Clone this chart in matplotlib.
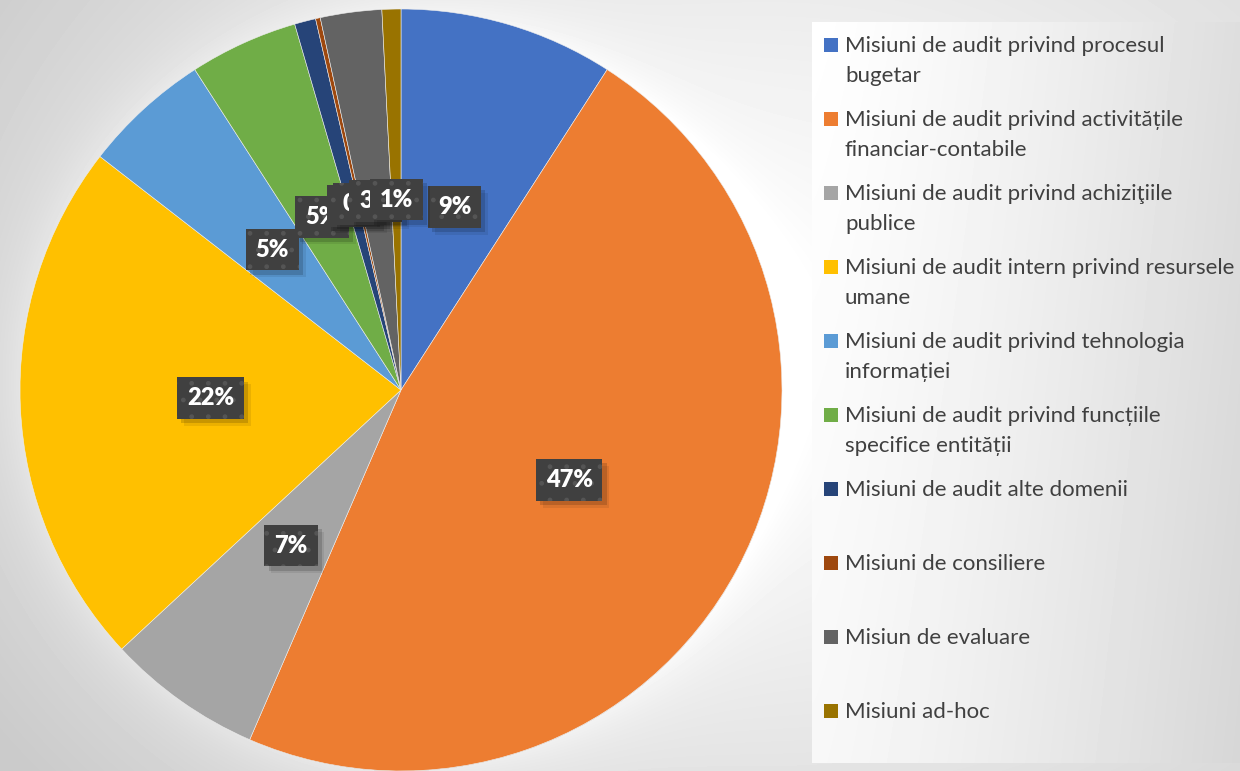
import numpy as np
import matplotlib
matplotlib.use("Agg")
import matplotlib.pyplot as plt
import matplotlib.patheffects as pe
from matplotlib.patches import Rectangle

# Ponderea misiunilor pe tipuri (%)
categorii = [
    "Misiuni de audit privind procesul\nbugetar",
    "Misiuni de audit privind activitățile\nfinanciar-contabile",
    "Misiuni de audit privind achiziţiile\npublice",
    "Misiuni de audit intern privind resursele\numane",
    "Misiuni de audit privind tehnologia\ninformației",
    "Misiuni de audit privind funcțiile\nspecifice entității",
    "Misiuni de audit alte domenii",
    "Misiuni de consiliere",
    "Misiun de evaluare",
    "Misiuni ad-hoc",
]
ponderi = [9.1, 47.4, 6.6, 22.4, 5.4, 4.6, 0.9, 0.2, 2.6, 0.8]
culori = ["#4472C4", "#ED7D31", "#A5A5A5", "#FFC000", "#5B9BD5",
          "#70AD47", "#264478", "#9E480E", "#636363", "#997300"]


class UmbraSimpla(pe.SimplePatchShadow):
    """Umbră de casetă fără modelul de puncte al casetei."""

    def draw_path(self, renderer, gc, tpath, affine, rgbFace):
        gc0 = renderer.new_gc()
        gc0.copy_properties(gc)
        gc0.set_hatch(None)
        super().draw_path(renderer, gc0, tpath, affine, rgbFace)
        gc0.restore()


W, H = 1240, 771
fig = plt.figure(figsize=(W / 100, H / 100), dpi=100)

# Fundal: gradient radial + halou deschis în jurul diagramei + panoul legendei
yy, xx = np.mgrid[0:H, 0:W].astype(float)
r = np.sqrt(((xx - 780) / 780) ** 2 + ((yy - 330) / 600) ** 2)
fundal = 0.99 - 0.15 * np.clip(r, 0, 1.2) ** 1.4
d_margine = np.sqrt((xx - 401) ** 2 + (yy - 390) ** 2) - 381
fundal += 0.05 * np.exp(-np.clip(d_margine, 0, None) / 30.0) * (d_margine > 0)
panou = (xx >= 812) & (yy >= 22) & (yy <= 762)
grad_panou = 1.0 - 0.13 * (np.clip(xx - 812, 0, None) / 428) ** 1.3 - 0.03 * (yy / H)
fundal = np.where(panou, grad_panou, fundal)
fundal = np.clip(fundal, 0, 1)

ax_bg = fig.add_axes([0, 0, 1, 1], zorder=0)
ax_bg.imshow(fundal, cmap="gray", vmin=0, vmax=1, extent=[0, W, H, 0],
             aspect="auto", interpolation="bilinear")
ax_bg.axis("off")

# Diagrama circulară (sens orar, de la ora 12)
ax = fig.add_axes([20 / W, 0, 762 / W, 762 / H], zorder=1)
ax.patch.set_alpha(0)
wedges, texts, autotexts = ax.pie(
    ponderi,
    colors=culori,
    startangle=90,
    counterclock=False,
    radius=1,
    pctdistance=0.5,
    autopct="%.0f%%",
    wedgeprops=dict(linewidth=0.4, edgecolor="#eeeeee"),
)
ax.set_xlim(-1, 1)
ax.set_ylim(-1, 1)
ax.axis("off")

# Etichete cu fundal închis punctat și umbră
umbra = [
    UmbraSimpla(offset=(5, -5), shadow_rgbFace="black", alpha=0.08),
    UmbraSimpla(offset=(3, -3), shadow_rgbFace="black", alpha=0.15),
    pe.Normal(),
]
for i, t in enumerate(autotexts):
    t.set_fontsize(17)
    t.set_fontweight("heavy")
    t.set_family("Lato")
    t.set_color("white")
    t.set_zorder(5 + i)
    t.set_bbox(dict(boxstyle="square,pad=0.42", fc="#404040", ec="#555555",
                    hatch=".", lw=0))
    t.get_bbox_patch().set_path_effects(umbra)

# Legenda
y0, pas, inter = 52, 74, 30
for i, (eticheta, c) in enumerate(zip(categorii, culori)):
    yb = y0 + i * pas
    fig.patches.append(Rectangle((824 / W, 1 - yb / H), 14 / W, 14 / H,
                                 transform=fig.transFigure, fc=c, ec="none",
                                 zorder=3))
    for j, rand in enumerate(eticheta.split("\n")):
        fig.text(845 / W, 1 - (yb + j * inter) / H, rand, ha="left", va="baseline",
                 fontsize=16, family="Lato", color="#404040", zorder=3)

fig.savefig("out.png", dpi=100)
